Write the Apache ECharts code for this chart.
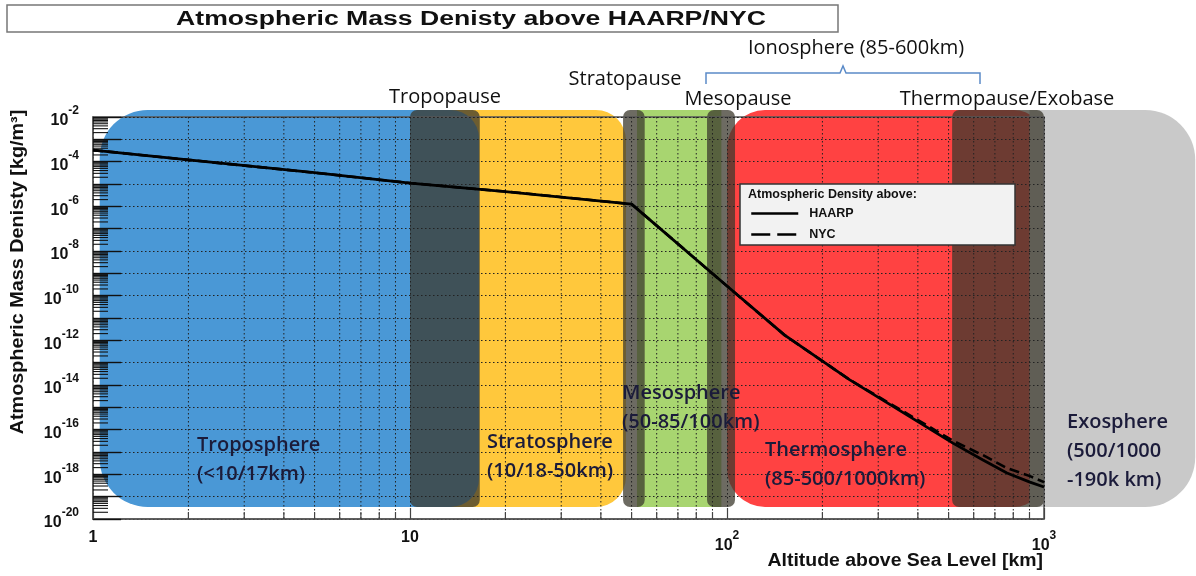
<!DOCTYPE html>
<html><head><meta charset="utf-8">
<script src="https://cdn.jsdelivr.net/npm/echarts@6/dist/echarts.min.js"></script>
<style>html,body{margin:0;padding:0;background:#fff}#c{width:1196px;height:576px}</style>
</head><body><div id="c"></div><script>
// ---- data ----
const altitudeHAARP = [1, 2, 5, 10, 20, 50, 100, 152, 244, 516, 642, 764, 903, 1000];
const densityHAARP  = [3.3e-4, 1.2e-4, 3.2e-5, 1.1e-5, 4.6e-6, 1.26e-6, 2.7e-10, 1.7e-12, 1.7e-14, 2.5e-17, 4.4e-18, 1.15e-18, 4.5e-19, 2.7e-19];
const altitudeNYC   = [1, 2, 5, 10, 20, 50, 100, 152, 244, 516, 642, 764, 903, 1000];
const densityNYC    = [3.3e-4, 1.2e-4, 3.2e-5, 1.1e-5, 4.6e-6, 1.26e-6, 2.7e-10, 1.7e-12, 1.7e-14, 3.2e-17, 7.2e-18, 1.9e-18, 8.3e-19, 4.5e-19];

const layerNames = ['Troposphere', 'Stratosphere', 'Mesosphere', 'Thermosphere', 'Exosphere'];
const layerFromKm = [1.05, 12, 52, 100, 900];
const layerToKm   = [16.5, 48, 96, 1000, 3000];
const pauseNames  = ['Tropopause', 'Stratopause', 'Mesopause', 'Thermopause/Exobase'];
const pauseFromKm = [10, 47, 86.5, 513];
const pauseToKm   = [16.6, 55, 106, 1000];

const minorMantissas = [2, 3, 4, 5, 6, 7, 8, 9];
const xDecades = [1, 10, 100];
const yDecadeExponents = [-20,-19,-18,-17,-16,-15,-14,-13,-12,-11,-10,-9,-8,-7,-6,-5,-4,-3];
const xTickLabels = {1: '1', 10: '10', 100: '{b|10}{s|2}', 1000: '{b|10}{s|3}'};

// ---- styles ----
const layerColors = ['#4A98D6', '#FFC83C', '#A8D570', '#FF4242', '#C9C9C9'];
const layerRadii = [[48, 28, 28, 48], [0, 30, 30, 0], [0, 0, 0, 0], [38, 30, 30, 38], [0, 50, 50, 0]];
const layerZ = [3, 1, 1, 1, 2];
const pauseColor = 'rgba(60,58,46,0.75)';
const AX = '"Liberation Sans", Arial, sans-serif';
const CAL = '"Open Sans", "Noto Sans", sans-serif';

const xMinor = xDecades.flatMap(d => minorMantissas.map(m => m * d));
const yMinor = yDecadeExponents.flatMap(e => minorMantissas.map(m => m * Math.pow(10, e)));

const chart = echarts.init(document.getElementById('c'));

function bandRender(colors, radii, zs) {
  return function (params, api) {
    const cs = params.coordSys;
    const x0 = api.coord([api.value(0), 1e-10])[0];
    const x1 = api.coord([api.value(1), 1e-10])[0];
    const top = cs.y - 7, bottom = cs.y + cs.height - 12;
    const i = params.dataIndex;
    return {
      type: 'rect', z2: zs ? zs[i] : 1,
      shape: {x: x0, y: top, width: x1 - x0, height: bottom - top, r: radii ? radii[i] : 7},
      style: {fill: colors ? colors[i] : pauseColor}
    };
  };
}

const supRich = {
  b: {fontFamily: AX, fontWeight: 'bold', fontSize: 16, color: '#111', lineHeight: 24, verticalAlign: 'bottom'},
  s: {fontFamily: AX, fontWeight: 'bold', fontSize: 12, color: '#111', lineHeight: 24, verticalAlign: 'top'}
};

const option = {
  animation: false,
  backgroundColor: '#fff',
  grid: {left: 93, right: 152, top: 117, bottom: 57, show: true, borderColor: '#555', borderWidth: 1.5, backgroundColor: 'transparent'},
  xAxis: {
    type: 'log', min: 1, max: 1000, logBase: 10,
    axisLine: {show: true, lineStyle: {color: '#555', width: 1.5}},
    axisTick: {show: true, inside: true, length: 11, lineStyle: {color: '#444', width: 1.2}},
    splitLine: {show: true, lineStyle: {color: '#222', type: [1.5, 2.5], width: 1}},
    axisLabel: {
      margin: 11, color: '#111',
      fontFamily: AX, fontWeight: 'bold', fontSize: 16,
      formatter: v => xTickLabels[Math.round(v)] || '',
      rich: supRich
    }
  },
  yAxis: {
    type: 'log', min: 1e-20, max: 1e-2, logBase: 10, interval: 1, splitNumber: 18,
    axisLine: {show: true, lineStyle: {color: '#555', width: 1.5}},
    axisTick: {show: true, inside: true, length: 28, lineStyle: {color: '#111', width: 1.4}},
    splitLine: {show: true, lineStyle: {color: '#222', type: [1.5, 2.5], width: 1}},
    axisLabel: {
      margin: 14, color: '#111', showMinLabel: true, showMaxLabel: true,
      formatter: v => {
        const e = Math.round(Math.log10(v));
        return (e % 2 === 0) ? '{b|10}{s|' + e + '}' : '';
      },
      rich: supRich
    }
  },
  legend: {
    data: [
      {name: 'HAARP'},
      {name: 'NYC', lineStyle: {type: [19, 7], width: 2.5}}
    ],
    orient: 'vertical', left: 750, top: 207, z: 12,
    itemWidth: 47, itemHeight: 14, itemGap: 8, padding: 0,
    itemStyle: {opacity: 0},
    lineStyle: {width: 2.5},
    textStyle: {fontFamily: AX, fontWeight: 'bold', fontSize: 12.5, color: '#111', padding: [0, 0, 0, 6]},
    selectedMode: false
  },
  series: [
    {
      type: 'custom', name: 'layers', z: -2, silent: true, clip: false,
      encode: {x: [0, 1]},
      renderItem: bandRender(layerColors, layerRadii, layerZ),
      data: layerFromKm.map((f, i) => [f, layerToKm[i]])
    },
    {
      type: 'custom', name: 'pauses', z: -1, silent: true, clip: false,
      encode: {x: [0, 1]},
      renderItem: bandRender(null, null, null),
      data: pauseFromKm.map((f, i) => [f, pauseToKm[i]])
    },
    {
      type: 'custom', name: 'xMinorGrid', z: 1, silent: true,
      renderItem: (params, api) => {
        const cs = params.coordSys;
        const x = api.coord([api.value(0), 1e-10])[0];
        const b = cs.y + cs.height;
        return {type: 'group', children: [
          {type: 'line', shape: {x1: x, y1: cs.y, x2: x, y2: b}, style: {stroke: '#222', lineWidth: 1, lineDash: [1.5, 2.5]}},
          {type: 'line', shape: {x1: x, y1: b, x2: x, y2: b - 7}, style: {stroke: '#444', lineWidth: 1.2}}
        ]};
      },
      data: xMinor.map(v => [v, 1e-10])
    },
    {
      type: 'custom', name: 'yMinorTicks', z: 1, silent: true,
      renderItem: (params, api) => {
        const cs = params.coordSys;
        const y = api.coord([1, api.value(1)])[1];
        return {type: 'line', shape: {x1: cs.x, y1: y, x2: cs.x + 15, y2: y}, style: {stroke: '#111', lineWidth: 1.1}};
      },
      data: yMinor.map(v => [1, v])
    },
    {
      type: 'line', name: 'NYC', z: 3, symbol: 'none', smooth: false,
      lineStyle: {color: '#000', width: 2.6, type: [10, 5]},
      itemStyle: {color: '#000'},
      data: altitudeNYC.map((a, i) => [a, densityNYC[i]])
    },
    {
      type: 'line', name: 'HAARP', z: 4, symbol: 'none', smooth: false,
      lineStyle: {color: '#000', width: 2.8},
      itemStyle: {color: '#000'},
      data: altitudeHAARP.map((a, i) => [a, densityHAARP[i]])
    }
  ],
  graphic: [
    {type: 'rect', z: 10, shape: {x: 7, y: 5, width: 831, height: 27}, style: {fill: '#fff', stroke: '#777', lineWidth: 1.5}},
    {type: 'text', z: 11, x: 471, y: 19, scaleX: 1.33, style: {text: 'Atmospheric Mass Denisty above HAARP/NYC', font: 'bold 20px ' + AX, fill: '#111', align: 'center', verticalAlign: 'middle', textAlign: 'center', textVerticalAlign: 'middle'}},
    {type: 'text', z: 11, x: 18, y: 272, rotation: Math.PI / 2, scaleX: 1.1, style: {text: 'Atmospheric Mass Denisty [kg/m³]', font: 'bold 18px ' + AX, fill: '#111', align: 'center', verticalAlign: 'middle', textAlign: 'center', textVerticalAlign: 'middle'}},
    {type: 'text', z: 11, x: 1043, y: 561, scaleX: 1.08, style: {text: 'Altitude above Sea Level [km]', font: 'bold 18px ' + AX, fill: '#111', align: 'right', verticalAlign: 'middle', textAlign: 'right', textVerticalAlign: 'middle'}},
    // legend box
    {type: 'rect', z: 11, shape: {x: 740, y: 184, width: 275, height: 61}, style: {fill: '#f2f2f2', stroke: '#333', lineWidth: 1.5}},
    {type: 'text', z: 12, x: 748, y: 195, style: {text: 'Atmospheric Density above:', font: 'bold 12.5px ' + AX, fill: '#111', align: 'left', verticalAlign: 'middle', textAlign: 'left', textVerticalAlign: 'middle'}},
    // boundary labels
    ...[[pauseNames[0], 445, 97], [pauseNames[1], 625, 79], [pauseNames[2], 738, 99], [pauseNames[3], 1007, 99], ['Ionosphere (85-600km)', 856, 48]].map(([t, x, y]) => ({
      type: 'text', z: 11, x: x, y: y, style: {text: t, font: '20px ' + CAL, fill: '#111', align: 'center', verticalAlign: 'middle', textAlign: 'center', textVerticalAlign: 'middle'}
    })),
    {type: 'polyline', z: 11, shape: {points: [[706, 84], [706, 73], [840, 73], [843, 66], [846, 73], [980, 73], [980, 84]]}, style: {stroke: '#5B8BC8', lineWidth: 1.5, fill: null}},
    // layer labels
    ...[[layerNames[0] + '\n(<10/17km)', 197, 431], [layerNames[1] + '\n(10/18-50km)', 487, 428], [layerNames[2] + '\n(50-85/100km)', 622, 379], [layerNames[3] + '\n(85-500/1000km)', 765, 436], [layerNames[4] + '\n(500/1000\n-190k km)', 1067, 408]].map(([t, x, y]) => ({
      type: 'text', z: 11, x: x, y: y, style: {text: t, font: '600 20px ' + CAL, fill: '#1b1b3a', lineHeight: 29, align: 'left', verticalAlign: 'top', textAlign: 'left', textVerticalAlign: 'top'}
    }))
  ]
};
chart.setOption(option);
</script></body></html>
